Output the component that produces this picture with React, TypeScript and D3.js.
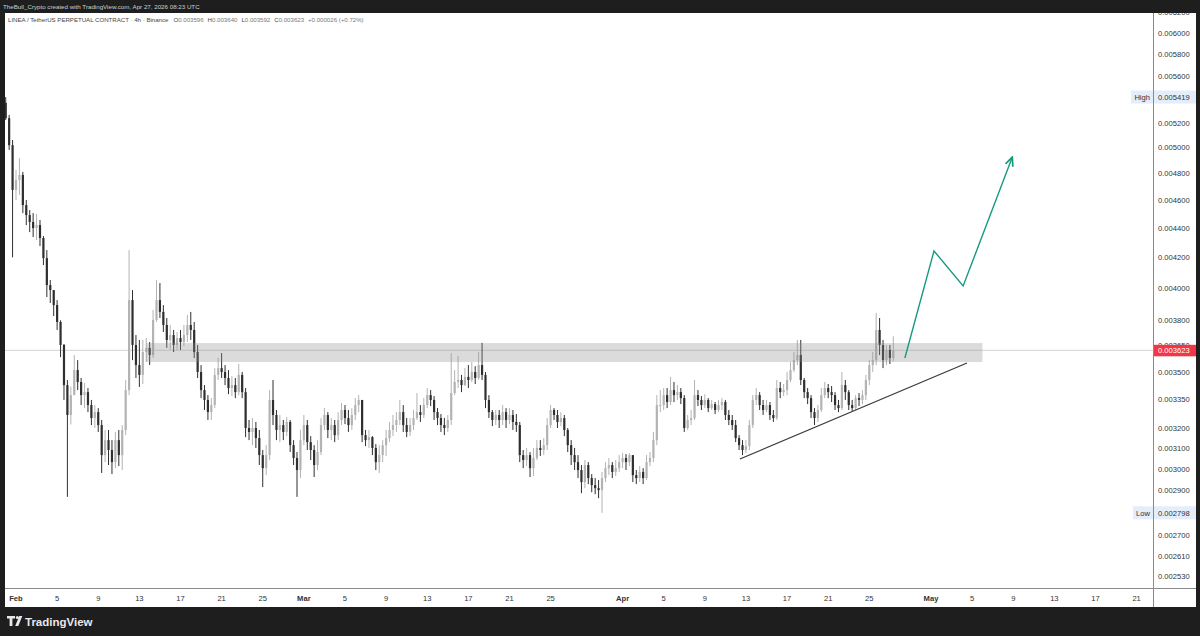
import React from "react";
import * as d3 from "d3";

// ---- data (prices in units of 1e-6 USDT, 8h candles starting Jan 31 2026 00:00 UTC) ----
const UNIT = 1e-6;
const FIRST_OPEN = 5370;
const START_UTC = Date.UTC(2026, 0, 31, 0);
const STEP_HOURS = 8;

const closes = [
  5240, 5020, 4675, 4750, 4788, 4564, 4492, 4443, 4400, 4421,
  4331, 4195, 4019, 3987, 3893, 3790, 3654, 3428, 3269, 3374,
  3511, 3445, 3374, 3390, 3321, 3253, 3284, 3217, 3067, 3141,
  3092, 3033, 3141, 3067, 3192, 3401, 3924, 3654, 3539, 3484,
  3613, 3637, 3596, 3802, 3924, 3851, 3772, 3683, 3712, 3654,
  3695, 3671, 3712, 3772, 3742, 3613, 3500, 3401, 3348, 3284,
  3321, 3484, 3522, 3500, 3467, 3412, 3428, 3390, 3484, 3390,
  3202, 3182, 3202, 3151, 3067, 3004, 3067, 3348, 3269, 3192,
  3217, 3182, 3233, 3116, 3053, 2995, 3141, 3217, 3131, 3092,
  3019, 3082, 3217, 3269, 3192, 3217, 3166, 3243, 3295, 3253,
  3217, 3269, 3321, 3348, 3166, 3141, 3156, 3102, 3033, 3067,
  3116, 3151, 3192, 3217, 3243, 3284, 3217, 3182, 3217, 3253,
  3284, 3269, 3321, 3374, 3348, 3284, 3253, 3217, 3202, 3243,
  3385, 3445, 3456, 3428, 3473, 3456, 3500, 3467, 3539, 3484,
  3348, 3284, 3243, 3269, 3243, 3284, 3243, 3269, 3233, 3217,
  3067, 3043, 3067, 3004, 3053, 3102, 3092, 3116, 3217, 3295,
  3269, 3233, 3253, 3192, 3116, 3067, 3033, 2995, 2938, 3019,
  2957, 2924, 2910, 2901, 2957, 3004, 3019, 2986, 3004, 3033,
  3053, 3033, 3067, 2971, 2957, 2986, 2957, 3033, 3053, 3141,
  3321, 3321, 3374, 3337, 3401, 3374, 3390, 3358, 3202, 3243,
  3253, 3374, 3348, 3321, 3348, 3305, 3326, 3295, 3321, 3337,
  3269, 3243, 3217, 3151, 3116, 3092, 3111, 3217, 3348, 3374,
  3321, 3295, 3321, 3269, 3253, 3412, 3390, 3401, 3456, 3511,
  3567, 3596, 3456, 3390, 3358, 3284, 3253, 3295, 3374, 3412,
  3390, 3374, 3321, 3305, 3428, 3390, 3321, 3305, 3358, 3348,
  3374, 3456, 3539, 3567, 3742, 3654, 3567, 3625, 3579, 3623,
];

const highs = [
  5419, 5267, 5061, 4826, 4918, 4811, 4601, 4528, 4506, 4500,
  4457, 4345, 4249, 4051, 3987, 3924, 3800, 3660, 3456, 3420,
  3596, 3567, 3467, 3440, 3412, 3348, 3321, 3305, 3243, 3192,
  3192, 3141, 3182, 3192, 3217, 3456, 4249, 3987, 3712, 3683,
  3683, 3695, 3671, 3863, 4051, 4032, 3893, 3814, 3772, 3742,
  3730, 3742, 3772, 3832, 3851, 3790, 3654, 3539, 3428, 3374,
  3358, 3522, 3579, 3607, 3539, 3511, 3478, 3467, 3545, 3500,
  3412, 3243, 3253, 3233, 3192, 3092, 3116, 3401, 3456, 3295,
  3269, 3243, 3259, 3243, 3141, 3082, 3192, 3269, 3243, 3161,
  3116, 3141, 3253, 3305, 3284, 3253, 3243, 3284, 3332, 3321,
  3295, 3305, 3358, 3374, 3348, 3192, 3192, 3161, 3121, 3116,
  3141, 3192, 3233, 3269, 3284, 3348, 3321, 3253, 3253, 3295,
  3385, 3321, 3358, 3412, 3401, 3369, 3305, 3274, 3253, 3269,
  3607, 3511, 3590, 3484, 3522, 3539, 3556, 3533, 3613, 3666,
  3500, 3374, 3295, 3295, 3295, 3321, 3305, 3305, 3295, 3274,
  3233, 3092, 3102, 3082, 3102, 3141, 3141, 3151, 3253, 3321,
  3305, 3295, 3284, 3269, 3202, 3141, 3102, 3067, 3019, 3043,
  3033, 2976, 2957, 2948, 2986, 3033, 3053, 3033, 3043, 3067,
  3077, 3072, 3077, 3067, 2995, 3014, 3004, 3067, 3082, 3182,
  3374, 3401, 3412, 3412, 3473, 3445, 3428, 3412, 3374, 3269,
  3295, 3456, 3401, 3369, 3379, 3358, 3348, 3337, 3348, 3358,
  3348, 3295, 3269, 3243, 3166, 3141, 3141, 3243, 3374, 3412,
  3390, 3348, 3348, 3337, 3295, 3456, 3445, 3434, 3500, 3556,
  3613, 3683, 3683, 3467, 3412, 3374, 3305, 3321, 3412, 3445,
  3434, 3423, 3390, 3348, 3500, 3456, 3401, 3348, 3374, 3385,
  3401, 3484, 3567, 3613, 3845, 3814, 3683, 3654, 3654, 3705,
];

const lows = [
  5225, 4982, 4200, 4601, 4638, 4506, 4421, 4372, 4338, 4317,
  4276, 4149, 3943, 3906, 3826, 3742, 3584, 3348, 2870, 3220,
  3374, 3401, 3321, 3305, 3284, 3217, 3202, 3182, 2981, 3033,
  3019, 2976, 3004, 3014, 2995, 3166, 3374, 3567, 3467, 3418,
  3434, 3556, 3539, 3579, 3790, 3814, 3730, 3637, 3625, 3613,
  3625, 3625, 3648, 3671, 3683, 3579, 3467, 3358, 3295, 3243,
  3243, 3305, 3456, 3467, 3428, 3379, 3369, 3358, 3374, 3358,
  3156, 3141, 3116, 3102, 3019, 2915, 2971, 3043, 3217, 3141,
  3131, 3141, 3161, 3082, 3019, 2870, 2957, 3116, 3092, 3043,
  2962, 2995, 3067, 3192, 3151, 3141, 3131, 3141, 3217, 3222,
  3182, 3192, 3243, 3284, 3131, 3111, 3102, 3067, 2995, 2981,
  3033, 3063, 3131, 3161, 3182, 3217, 3182, 3156, 3161, 3192,
  3243, 3233, 3253, 3305, 3316, 3243, 3217, 3182, 3166, 3182,
  3217, 3374, 3412, 3390, 3423, 3412, 3445, 3434, 3456, 3456,
  3305, 3253, 3212, 3217, 3202, 3217, 3202, 3222, 3192, 3182,
  3033, 3004, 3014, 2962, 2967, 3043, 3063, 3067, 3092, 3202,
  3243, 3202, 3212, 3161, 3082, 3019, 2995, 2957, 2887, 2910,
  2929, 2891, 2882, 2864, 2798, 2938, 2971, 2957, 2967, 2986,
  3004, 2995, 3014, 2938, 2929, 2938, 2929, 2948, 3014, 3033,
  3116, 3284, 3295, 3305, 3321, 3337, 3348, 3326, 3182, 3192,
  3217, 3243, 3316, 3295, 3305, 3284, 3295, 3274, 3284, 3295,
  3243, 3217, 3192, 3131, 3092, 3067, 3077, 3092, 3202, 3321,
  3295, 3269, 3284, 3243, 3233, 3243, 3358, 3369, 3374, 3445,
  3500, 3539, 3428, 3358, 3326, 3253, 3217, 3233, 3284, 3358,
  3358, 3337, 3295, 3284, 3295, 3348, 3295, 3290, 3295, 3316,
  3326, 3348, 3428, 3500, 3539, 3596, 3522, 3539, 3545, 3560,
];

const priceTicks = [
  0.0062, 0.006, 0.0058, 0.0056, 0.0052, 0.005, 0.0048, 0.0046, 0.0044,
  0.0042, 0.004, 0.0038, 0.00365, 0.0035, 0.00335, 0.0032, 0.0031, 0.003,
  0.0029, 0.0027, 0.00261, 0.00253,
];

const dateTicks: [string, string, boolean][] = [
  ["2026-02-01", "Feb", true], ["2026-02-05", "5", false], ["2026-02-09", "9", false],
  ["2026-02-13", "13", false], ["2026-02-17", "17", false], ["2026-02-21", "21", false],
  ["2026-02-25", "25", false], ["2026-03-01", "Mar", true], ["2026-03-05", "5", false],
  ["2026-03-09", "9", false], ["2026-03-13", "13", false], ["2026-03-17", "17", false],
  ["2026-03-21", "21", false], ["2026-03-25", "25", false], ["2026-04-01", "Apr", true],
  ["2026-04-05", "5", false], ["2026-04-09", "9", false], ["2026-04-13", "13", false],
  ["2026-04-17", "17", false], ["2026-04-21", "21", false], ["2026-04-25", "25", false],
  ["2026-05-01", "May", true], ["2026-05-05", "5", false], ["2026-05-09", "9", false],
  ["2026-05-13", "13", false], ["2026-05-17", "17", false], ["2026-05-21", "21", false],
];

const HIGH_PRICE = 0.005419;
const LOW_PRICE = 0.002798;
const LAST_PRICE = 0.003623;

// resistance zone
const zoneTime = ["2026-02-13T16:00:00Z", "2026-05-06T00:00:00Z"];
const zonePrice = [0.003665, 0.003556];
// rising trendline
const trendTime = ["2026-04-12T10:00:00Z", "2026-05-04T12:00:00Z"];
const trendPrice = [0.003048, 0.003551];
// projected path (green arrow)
const pathTime = ["2026-04-28T11:00:00Z", "2026-05-01T07:00:00Z", "2026-05-04T03:00:00Z", "2026-05-08T21:00:00Z"];
const pathPrice = [0.003579, 0.004243, 0.004013, 0.004919];

const W = 1200;
const H = 636;
const PL = 5, PR = 1153, PT = 13, PB = 588;
const FONT = "'Liberation Sans', Arial, sans-serif";

export default function App() {
  const x = d3.scaleUtc()
    .domain([new Date(Date.UTC(2026, 1, 1)), new Date(Date.UTC(2026, 4, 1))])
    .range([16, 931]);
  const y = d3.scaleLog().domain([0.006, 0.003]).range([33, 469]);

  const candles = closes.map((c, i) => {
    const t = new Date(START_UTC + i * STEP_HOURS * 3600 * 1000);
    const o = i === 0 ? FIRST_OPEN : closes[i - 1];
    return { t, o: o * UNIT, c: c * UNIT, h: highs[i] * UNIT, l: lows[i] * UNIT };
  });

  const bodyW = 2.2;
  const upColor = "#b3b3b3";
  const downColor = "#2f2f2f";

  const line = d3.line<[string, number]>()
    .x((d) => x(new Date(d[0])))
    .y((d) => y(d[1]));
  const pathD = line(pathTime.map((t, i) => [t, pathPrice[i]]));
  const trendD = line(trendTime.map((t, i) => [t, trendPrice[i]]));

  const lastY = y(LAST_PRICE);
  const highY = y(HIGH_PRICE);
  const lowY = y(LOW_PRICE);

  const fmt = (v: number) => v.toFixed(6);

  return (
    <div style={{ position: "absolute", left: 0, top: 0 }}>
      <svg width={W} height={H} style={{ display: "block", fontFamily: FONT }}>
        <defs>
          <clipPath id="plot">
            <rect x={PL} y={PT} width={PR - PL} height={PB - PT} />
          </clipPath>
          <clipPath id="axis">
            <rect x={PR} y={PT} width={1196 - PR} height={PB - PT} />
          </clipPath>
          <marker id="arrow" viewBox="0 0 10 10" refX="8" refY="5" markerWidth="7" markerHeight="7" orient="auto">
            <path d="M0,1 L9,5 L0,9" fill="none" stroke="#179a80" strokeWidth="1.8" />
          </marker>
        </defs>

        {/* frame */}
        <rect x={0} y={0} width={W} height={H} fill="#1e1e1e" />
        <rect x={PL} y={PT} width={1196 - PL} height={607 - PT} fill="#ffffff" />

        {/* top credits */}
        <text x={3} y={8.5} fontSize={6.2} fill="#cfcfcf">
          TheBull_Crypto created with TradingView.com, Apr 27, 2026 08:23 UTC
        </text>

        {/* current price line */}
        <line x1={PL} x2={PR} y1={lastY} y2={lastY} stroke="#d4d4d4" strokeWidth={1} />

        {/* candles */}
        <g clipPath="url(#plot)">
          {candles.map((d, i) => {
            const cx = x(d.t);
            const up = d.c >= d.o;
            const col = up ? upColor : downColor;
            const top = y(Math.max(d.o, d.c));
            const bot = y(Math.min(d.o, d.c));
            return (
              <g key={i}>
                <line x1={cx} x2={cx} y1={y(d.h)} y2={y(d.l)} stroke={col} strokeWidth={1} />
                <rect x={cx - bodyW / 2} y={top} width={bodyW} height={Math.max(1, bot - top)} fill={col} />
              </g>
            );
          })}

          {/* resistance zone */}
          <rect
            x={x(new Date(zoneTime[0]))}
            y={y(zonePrice[0])}
            width={x(new Date(zoneTime[1])) - x(new Date(zoneTime[0]))}
            height={y(zonePrice[1]) - y(zonePrice[0])}
            fill="#8f8f8f"
            fillOpacity={0.32}
          />

          {/* trendline */}
          <path d={trendD || ""} fill="none" stroke="#3a3a3a" strokeWidth={1.2} />

          {/* projection */}
          <path d={pathD || ""} fill="none" stroke="#179a80" strokeWidth={1.4} markerEnd="url(#arrow)" />
        </g>

        {/* symbol header */}
        <text x={8} y={22} fontSize={6.1} fill="#444">
          <tspan>LINEA / TetherUS PERPETUAL CONTRACT · 4h · Binance</tspan>
          <tspan dx={5}>O</tspan><tspan fill="#777">0.003596</tspan>
          <tspan dx={4}>H</tspan><tspan fill="#777">0.003640</tspan>
          <tspan dx={4}>L</tspan><tspan fill="#777">0.003592</tspan>
          <tspan dx={4}>C</tspan><tspan fill="#777">0.003623</tspan>
          <tspan dx={4} fill="#777">+0.000026 (+0.72%)</tspan>
        </text>

        {/* price axis */}
        <line x1={PR + 0.5} x2={PR + 0.5} y1={PT} y2={607} stroke="#8a8a8a" strokeWidth={1} />
        <line x1={PL} x2={1196} y1={PB + 0.5} y2={PB + 0.5} stroke="#8a8a8a" strokeWidth={1} />
        <g clipPath="url(#axis)">
          {priceTicks.map((p) => (
            <text key={p} x={1158} y={y(p)} dy="0.35em" fontSize={7.6} fill="#333">
              {fmt(p)}
            </text>
          ))}

          {/* High label */}
          <rect x={PR + 1} y={highY - 6.5} width={1196 - PR - 1} height={13} fill="#e4edfb" />
          <text x={1158} y={highY} dy="0.35em" fontSize={7.6} fill="#333">{fmt(HIGH_PRICE)}</text>
          {/* Low label */}
          <rect x={PR + 1} y={lowY - 6.5} width={1196 - PR - 1} height={13} fill="#e4edfb" />
          <text x={1158} y={lowY} dy="0.35em" fontSize={7.6} fill="#333">{fmt(LOW_PRICE)}</text>
          {/* last price */}
          <rect x={PR + 1} y={lastY - 5.5} width={1196 - PR - 1} height={11.5} fill="#f23645" />
          <text x={1158} y={lastY} dy="0.35em" fontSize={7.6} fill="#ffffff">{fmt(LAST_PRICE)}</text>
        </g>
        <rect x={1131} y={highY - 6.5} width={PR - 1131} height={13} fill="#e4edfb" />
        <text x={1150} y={highY} dy="0.35em" fontSize={7.6} fill="#333" textAnchor="end">High</text>
        <rect x={1133} y={lowY - 6.5} width={PR - 1133} height={13} fill="#e4edfb" />
        <text x={1150} y={lowY} dy="0.35em" fontSize={7.6} fill="#333" textAnchor="end">Low</text>

        {/* time axis */}
        {dateTicks.map(([d, label, month]) => (
          <text
            key={d}
            x={x(new Date(d + "T00:00:00Z"))}
            y={598}
            dy="0.35em"
            fontSize={7.6}
            fill="#333"
            fontWeight={month ? 700 : 400}
            textAnchor="middle"
          >
            {label}
          </text>
        ))}

        {/* TradingView logo */}
        <g fill="#e8e8e8">
          <path d="M7,616 h8 v2.6 h-2.6 v7.4 h-2.8 v-7.4 h-2.6 z" />
          <circle cx={17.3} cy={617.4} r={1.5} />
          <path d="M19.2,616 h3.1 l-4,10 h-3.1 z" />
          <text x={25} y={625.6} fontSize={11.5} fontWeight={600} fill="#e8e8e8">TradingView</text>
        </g>
      </svg>
    </div>
  );
}
